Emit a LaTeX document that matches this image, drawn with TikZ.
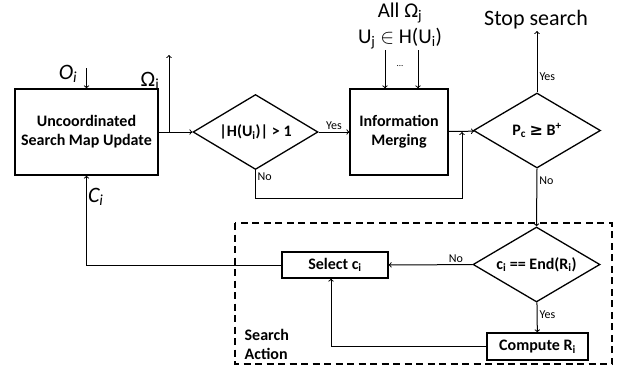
\documentclass[tikz,border=0pt]{standalone}
\usepackage{fontspec}
\setmainfont{Carlito}
\newfontfamily\symfont{DejaVu Sans}
\usetikzlibrary{positioning,shapes.geometric,calc}

\tikzset{
  >=to,
  every node/.style={font=\small},
  % --- nodes
  blk/.style  = {draw, line width=1.3pt, align=center, inner sep=3pt,
                 font=\fontsize{16}{19}\selectfont\bfseries},
  dec/.style  = {blk, diamond, aspect=1.67, inner sep=0pt},
  lbl/.style  = {font=\fontsize{12}{14}\selectfont, inner sep=2pt},
  big/.style  = {font=\fontsize{22}{24}\selectfont, inner sep=1pt},
  % --- edges
  e/.style    = {->, line width=1pt},
  grp/.style  = {draw, line width=1.3pt, dash pattern=on 7pt off 4.5pt},
}

\begin{document}
\begin{tikzpicture}[x=1pt,y=-1pt]
  \useasboundingbox (0,0) rectangle (621,372);

  % search action group
  \draw[grp] (235,223) rectangle (612,364);
  \node[blk, draw=none, anchor=west, align=left, inner sep=0pt] (grplbl) at (244,344) {Search\\Action};

  % main chain
  \node[blk, minimum width=143pt, minimum height=86pt] (upd) at (86.5,132) {Uncoordinated\\Search Map Update};
  \node[dec, minimum width=125pt, minimum height=75pt] (hq) at (255.5,132) {|H(U\textsubscript{i})| > 1};
  \node[blk, minimum width=98pt, minimum height=86pt] (mrg) at (399,132) {Information\\Merging};
  \node[dec, minimum width=127pt, minimum height=75pt] (pc) at (537,130.5) {P\textsubscript{c} {\symfont ≥} B\textsuperscript{+}};
  \node[dec, minimum width=127pt, minimum height=75pt] (endq) at (536.5,264.5) {c\textsubscript{i} == End(R\textsubscript{i})};
  \node[blk, minimum width=106pt, minimum height=26pt] (sel) at (335,265) {Select c\textsubscript{i}};
  \node[blk, minimum width=101pt, minimum height=27pt] (comp) at (537.5,346.5) {Compute R\textsubscript{i}};

  % inputs and outputs
  \coordinate (oin) at (86.5,68);
  \coordinate (obr) at (169,132);
  \coordinate (omega) at (169,55);
  \coordinate (in1) at (385,50);
  \coordinate (in2) at (418,50);
  \coordinate (nojoin) at (462,132);
  \coordinate (halt) at (537,31);

  \node[big] (olbl) at (68,74) {\itshape O\textsubscript{i}};
  \node[big] (omlbl) at (150,81) {Ω\textsubscript{i}};
  \node[big, align=center, font=\fontsize{21}{26.5}\selectfont] (alllbl) at (400,26) {All Ω\textsubscript{j}\\U\textsubscript{j} $\in$ H(U\textsubscript{i})};
  \node[lbl, font=\fontsize{9}{10}\selectfont] (dots) at (400,66) {...};
  \node[big] (stoplbl) at (536,20) {Stop search};

  \draw[e] (oin) -- (upd.north);
  \draw[e] (upd) -- (hq);
  \draw[e] (obr) -- (omega);
  \draw[e] (hq) -- (mrg) node[lbl, midway, above] {Yes};
  \draw[e] (in1) -- (in1 |- mrg.north);
  \draw[e] (in2) -- (in2 |- mrg.north);
  \draw[e] (hq.south) -- ++(0,28) -| (nojoin);
  \node[lbl, anchor=north west] (nolbl) at (hq.south) {No};
  \draw[e] (mrg) -- (pc);
  \draw[e] (pc.north) -- (halt) node[lbl, pos=.25, right] {Yes};
  \draw[e] (pc.south) -- (endq.north) node[lbl, pos=.2, right] {No};
  \draw[e] (endq) -- (sel) node[lbl, pos=.2, above] {No};
  \draw[e] (endq) -- (comp) node[lbl, pos=.4, right] {Yes};
  \draw[e] (comp.west) -| ($(sel.south)+(-4,0)$);
  \draw[e] (sel.west) -| (upd.south) node[big, pos=.88, right] {\itshape C\textsubscript{i}};
\end{tikzpicture}
\end{document}
